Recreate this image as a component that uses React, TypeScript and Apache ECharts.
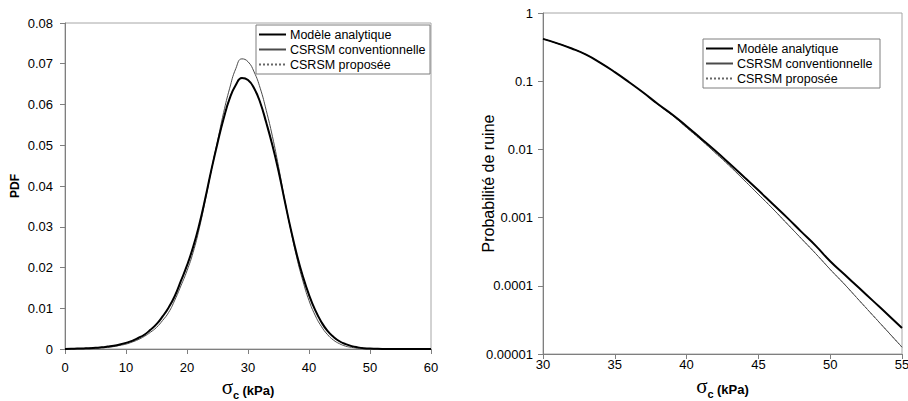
import React, { useEffect, useRef } from "react";
import * as echarts from "echarts";

// ---- Left chart: PDF of sigma_c ----
const xLeft = [
  0, 1, 2, 3, 4, 5, 6, 7, 8, 9, 10, 11, 12, 13, 14, 15, 16, 17, 18, 19, 20,
  21, 22, 23, 24, 25, 26, 27, 28, 29, 30, 31, 32, 33, 34, 35, 36, 37, 38, 39, 40,
  41, 42, 43, 44, 45, 46, 47, 48, 49, 50, 51, 52, 53, 54, 55, 56, 57, 58, 59, 60,
];
const pdfAnalytique = [
  0.0, 0.00005, 0.0001, 0.00015, 0.0002, 0.0003, 0.0004, 0.0006, 0.0008, 0.0011, 0.0015,
  0.002, 0.0027, 0.0035, 0.0047, 0.0061, 0.008, 0.0102, 0.013, 0.0167, 0.0205,
  0.025, 0.0305, 0.037, 0.044, 0.0505, 0.0565, 0.0615, 0.0648, 0.0665, 0.066,
  0.064, 0.0605, 0.0555, 0.05, 0.0437, 0.0365, 0.0295, 0.0232, 0.0178, 0.0133,
  0.0096, 0.0067, 0.0045, 0.003, 0.0019, 0.0012, 0.0007, 0.0004, 0.0002, 0.0001,
  0.00006, 0.00003, 0.00002, 0.00001, 0, 0, 0, 0, 0, 0,
];
const pdfConventionnelle = [
  0.0, 0.00003, 0.00005, 0.0001, 0.00015, 0.0002, 0.0003, 0.0004, 0.0006, 0.0009, 0.0012,
  0.0017, 0.0023, 0.0031, 0.0041, 0.0053, 0.007, 0.009, 0.012, 0.0155, 0.0192,
  0.0237, 0.0295, 0.0365, 0.044, 0.051, 0.058, 0.064, 0.0688, 0.0712, 0.0705,
  0.068, 0.064, 0.0585, 0.0522, 0.0448, 0.0367, 0.0293, 0.0224, 0.0167, 0.0119,
  0.0083, 0.0056, 0.0036, 0.0022, 0.0013, 0.0007, 0.0004, 0.0002, 0.0001, 0.00005,
  0, 0, 0, 0, 0, 0, 0, 0, 0, 0,
];
const pdfProposee = [
  0.0, 0.00005, 0.0001, 0.00015, 0.0002, 0.0003, 0.0004, 0.0006, 0.0008, 0.0011, 0.0015,
  0.002, 0.0027, 0.0035, 0.0047, 0.0061, 0.008, 0.0102, 0.013, 0.0167, 0.0205,
  0.025, 0.0305, 0.037, 0.044, 0.0505, 0.0565, 0.0615, 0.0648, 0.0665, 0.066,
  0.064, 0.0605, 0.0555, 0.05, 0.0437, 0.0365, 0.0295, 0.0232, 0.0178, 0.0133,
  0.0096, 0.0067, 0.0045, 0.003, 0.0019, 0.0012, 0.0007, 0.0004, 0.0002, 0.0001,
  0.00006, 0.00003, 0.00002, 0.00001, 0, 0, 0, 0, 0, 0,
];

// ---- Right chart: probability of failure ----
const xRight = [
  30, 31, 32, 33, 34, 35, 36, 37, 38, 39, 40, 41, 42, 43, 44, 45, 46, 47, 48, 49, 50,
  51, 52, 53, 54, 55,
];
const pfAnalytique = [
  0.417, 0.359, 0.302, 0.245, 0.186, 0.136, 0.0966, 0.0676, 0.0462, 0.0324, 0.0219,
  0.0145, 0.00955, 0.00617, 0.00395, 0.00251, 0.00158, 0.001, 0.000617, 0.000385,
  0.000229, 0.000146, 0.0000933, 0.0000596, 0.000038, 0.000024,
];
const pfConventionnelle = [
  0.417, 0.359, 0.302, 0.245, 0.186, 0.136, 0.0966, 0.0676, 0.0457, 0.0316, 0.0209,
  0.0138, 0.00891, 0.00571, 0.00355, 0.00219, 0.00135, 0.000813, 0.00049, 0.000295,
  0.000174, 0.000105, 0.0000617, 0.0000363, 0.0000214, 0.0000126,
];
const pfProposee = [
  0.417, 0.359, 0.302, 0.245, 0.186, 0.136, 0.0966, 0.0676, 0.0457, 0.0316, 0.0209,
  0.0138, 0.00891, 0.00571, 0.00355, 0.00219, 0.00135, 0.000813, 0.00049, 0.000295,
  0.000174, 0.000105, 0.0000617, 0.0000363, 0.0000214, 0.0000126,
];

const seriesNames = ["Modèle analytique", "CSRSM conventionnelle", "CSRSM proposée"];
const rightTickLabels = ["0.00001", "0.0001", "0.001", "0.01", "0.1", "1"];

const FONT = "'Liberation Sans', Arial, sans-serif";
const AXIS_COLOR = "#7f7f7f";
const BORDER_COLOR = "#a6a6a6";

const pairs = (xs: number[], ys: number[]) => xs.map((x, i) => [x, ys[i]]);

const xTitleRich = {
  s: { fontFamily: "'Liberation Serif', 'Times New Roman', serif", fontSize: 21, color: "#000", verticalAlign: "bottom", padding: [0, 0, 3, 0] },
  c: { fontFamily: FONT, fontSize: 11, fontWeight: "bold", color: "#000", verticalAlign: "bottom" },
  k: { fontFamily: FONT, fontSize: 13, fontWeight: "bold", color: "#000", verticalAlign: "bottom", padding: [0, 0, 3, 0] },
};

const lineStyles = [
  { color: "#000000", width: 2, type: "solid" as any },
  { color: "#4a4a4a", width: 1, type: "solid" as any },
  { color: "#666666", width: 1, type: [2, 2] as any },
];

function makeSeries(gridIdx: number, xs: number[], data: number[][]) {
  const order = [2, 1, 0];
  return order.map((k) => ({
    name: seriesNames[k],
    type: "line",
    xAxisIndex: gridIdx,
    yAxisIndex: gridIdx,
    data: pairs(xs, data[k]),
    showSymbol: false,
    symbol: "none",
    smooth: 0.5,
    lineStyle: lineStyles[k],
    itemStyle: { color: lineStyles[k].color },
    z: 3 - k,
    silent: true,
  }));
}

const legendBase = {
  orient: "vertical",
  data: seriesNames,
  backgroundColor: "#ffffff",
  borderColor: "#7f7f7f",
  borderWidth: 1,
  borderRadius: 0,
  padding: [3, 3, 3, 2],
  itemWidth: 27,
  itemHeight: 10,
  itemGap: 2,
  align: "left",
  selectedMode: false,
  itemStyle: { opacity: 0 },
};

const legendText = (w: number) => ({
  fontFamily: FONT,
  fontSize: 12.5,
  color: "#000",
  lineHeight: 13,
  width: w,
  overflow: "none",
  padding: [0, 0, 0, -1],
});

export default function App() {
  const ref = useRef<HTMLDivElement>(null);
  useEffect(() => {
    if (!ref.current) return;
    const chart = echarts.init(ref.current, null, { renderer: "svg" });
    const option: any = {
      animation: false,
      backgroundColor: "#ffffff",
      textStyle: { fontFamily: FONT },
      grid: [
        { left: 65, top: 23, width: 366, height: 326, show: true, borderColor: BORDER_COLOR, borderWidth: 1, backgroundColor: "transparent", outerBoundsMode: "none", containLabel: false },
        { left: 543, top: 13, width: 359, height: 341, show: true, borderColor: BORDER_COLOR, borderWidth: 1, backgroundColor: "transparent", outerBoundsMode: "none", containLabel: false },
      ],
      legend: [
        { ...legendBase, left: 256, top: 25, textStyle: legendText(137) },
        { ...legendBase, left: 703, top: 39, textStyle: legendText(140) },
      ],
      xAxis: [
        {
          gridIndex: 0, type: "value", min: 0, max: 60, interval: 10,
          axisLine: { show: true, onZero: false, lineStyle: { color: AXIS_COLOR } },
          axisTick: { show: true, length: 5, lineStyle: { color: AXIS_COLOR } },
          axisLabel: { margin: 12, fontSize: 13, color: "#000", fontFamily: FONT },
          splitLine: { show: false },
          name: "{s|σ}{c|c} {k|(kPa)}",
          nameLocation: "middle",
          nameGap: 27,
          nameMoveOverlap: false,
          nameTextStyle: { rich: xTitleRich },
        },
        {
          gridIndex: 1, type: "value", min: 30, max: 55, interval: 5,
          axisLine: { show: true, onZero: false, lineStyle: { color: AXIS_COLOR } },
          axisTick: { show: true, length: 5, lineStyle: { color: AXIS_COLOR } },
          axisLabel: { margin: 4, fontSize: 13, color: "#000", fontFamily: FONT },
          splitLine: { show: false },
          name: "{s|σ}{c|c} {k|(kPa)}",
          nameLocation: "middle",
          nameGap: 21,
          nameMoveOverlap: false,
          nameTextStyle: { rich: xTitleRich },
        },
      ],
      yAxis: [
        {
          gridIndex: 0, type: "value", min: 0, max: 0.08, interval: 0.01,
          axisLine: { show: true, onZero: false, lineStyle: { color: AXIS_COLOR } },
          axisTick: { show: true, length: 5, lineStyle: { color: AXIS_COLOR } },
          axisLabel: {
            margin: 12, fontSize: 13, color: "#000", fontFamily: FONT,
            formatter: (v: number) => (v === 0 ? "0" : v.toFixed(2)),
          },
          splitLine: { show: false },
          name: "PDF",
          nameLocation: "middle",
          nameGap: 44,
          nameMoveOverlap: false,
          nameTextStyle: { fontFamily: FONT, fontSize: 12, fontWeight: "bold", color: "#000" },
        },
        {
          gridIndex: 1, type: "log", logBase: 10, min: 0.00001, max: 1,
          axisLine: { show: true, onZero: false, lineStyle: { color: AXIS_COLOR } },
          axisTick: { show: true, length: 5, lineStyle: { color: AXIS_COLOR } },
          axisLabel: {
            margin: 10, fontSize: 13, color: "#000", fontFamily: FONT,
            formatter: (v: number) => rightTickLabels[Math.round(Math.log10(v)) + 5] ?? String(v),
          },
          minorTick: { show: false },
          splitLine: { show: false },
          name: "Probabilité de ruine",
          nameLocation: "middle",
          nameGap: 47,
          nameMoveOverlap: false,
          nameTextStyle: { fontFamily: FONT, fontSize: 16, color: "#000" },
        },
      ],
      series: [
        ...makeSeries(0, xLeft, [pdfAnalytique, pdfConventionnelle, pdfProposee]),
        ...makeSeries(1, xRight, [pfAnalytique, pfConventionnelle, pfProposee]),
      ],
    };
    chart.setOption(option);
    return () => chart.dispose();
  }, []);
  return (
    <div
      ref={ref}
      style={{ position: "absolute", left: 0, top: 0, width: 908, height: 401, background: "#fff" }}
    />
  );
}
